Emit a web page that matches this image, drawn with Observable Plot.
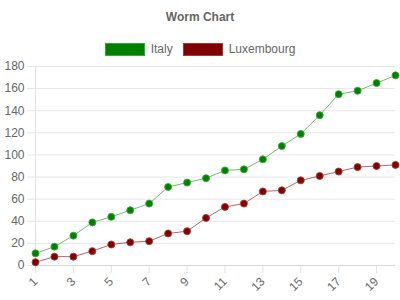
<!DOCTYPE html>
<html>
<head>
<meta charset="utf-8">
<script src="https://cdn.jsdelivr.net/npm/d3@7"></script>
<script src="https://cdn.jsdelivr.net/npm/@observablehq/plot@0.6"></script>
<style>
  html, body { margin: 0; padding: 0; background: #fff; }
  body { width: 400px; height: 300px; overflow: hidden; font-family: "Liberation Sans", Arial, sans-serif; color: #666; }
  #title { height: 34px; line-height: 34px; text-align: center; font-weight: bold; font-size: 12px; color: #666; }
  #legend { height: 26px; display: flex; justify-content: center; align-items: center; font-size: 12px; color: #666; padding-top: 4px; box-sizing: border-box; }
  .item { display: flex; align-items: center; margin: 0 5px; }
  .sw { width: 38px; height: 11px; margin-right: 6px; border: 1px solid; }
</style>
</head>
<body>
<div id="title">Worm Chart</div>
<div id="legend"></div>
<div id="chart"></div>
<script>
const rounds = [1,2,3,4,5,6,7,8,9,10,11,12,13,14,15,16,17,18,19,20];
const italy = [11,17,27,39,44,50,56,71,75,79,86,87,96,108,119,136,155,158,165,172];
const luxembourg = [3,8,8,13,19,21,22,29,31,43,53,56,67,68,77,81,85,89,90,91];
const seriesNames = ["Italy", "Luxembourg"];
const seriesFill = ["#008000", "#800000"];
const seriesLine = ["rgba(0,128,0,0.55)", "rgba(128,0,0,0.6)"];
const seriesEdge = ["rgba(60,170,60,0.9)", "rgba(170,60,60,0.9)"];
const yTicks = [0,20,40,60,80,100,120,140,160,180];
const xTicks = [1,3,5,7,9,11,13,15,17,19];

const data = [];
rounds.forEach((r, i) => {
  data.push({round: r, value: italy[i], series: seriesNames[0]});
  data.push({round: r, value: luxembourg[i], series: seriesNames[1]});
});

const legend = document.getElementById("legend");
seriesNames.forEach((n, i) => {
  const it = document.createElement("div");
  it.className = "item";
  const sw = document.createElement("div");
  sw.className = "sw";
  sw.style.background = seriesFill[i];
  sw.style.borderColor = seriesEdge[i];
  it.appendChild(sw);
  const t = document.createElement("span");
  t.textContent = n;
  it.appendChild(t);
  legend.appendChild(it);
});

const plot = Plot.plot({
  width: 400,
  height: 240,
  marginTop: 6,
  marginBottom: 35,
  marginLeft: 35,
  marginRight: 5,
  style: {fontFamily: "Liberation Sans, Arial, sans-serif", fontSize: "12px", color: "#666", background: "#fff"},
  x: {domain: [1, 20], label: null},
  y: {domain: [0, 180], label: null},
  color: {domain: seriesNames, range: seriesFill},
  marks: [
    Plot.gridY(yTicks, {stroke: "#e6e6e6", strokeOpacity: 1}),
    Plot.ruleX([1], {stroke: "#e0e0e0", y1: 0, y2: 180}),
    Plot.ruleY([0], {stroke: "#d6d6d6"}),
    Plot.axisY(yTicks, {tickSize: 8, tickPadding: 3, stroke: "#e6e6e6", fontSize: 12, fill: "#666"}),
    Plot.axisX(xTicks, {tickSize: 8, stroke: "#e0e0e0", tickRotate: -45, tickPadding: 6, fontSize: 12, fill: "#666"}),
    Plot.line(data, {x: "round", y: "value", z: "series", stroke: d => d.series === seriesNames[0] ? seriesLine[0] : seriesLine[1], strokeWidth: 1}),
    Plot.dot(data, {x: "round", y: "value", fill: "series", stroke: d => d.series === seriesNames[0] ? seriesEdge[0] : seriesEdge[1], r: 3.5, strokeWidth: 1})
  ]
});
document.getElementById("chart").appendChild(plot);
</script>
</body>
</html>
